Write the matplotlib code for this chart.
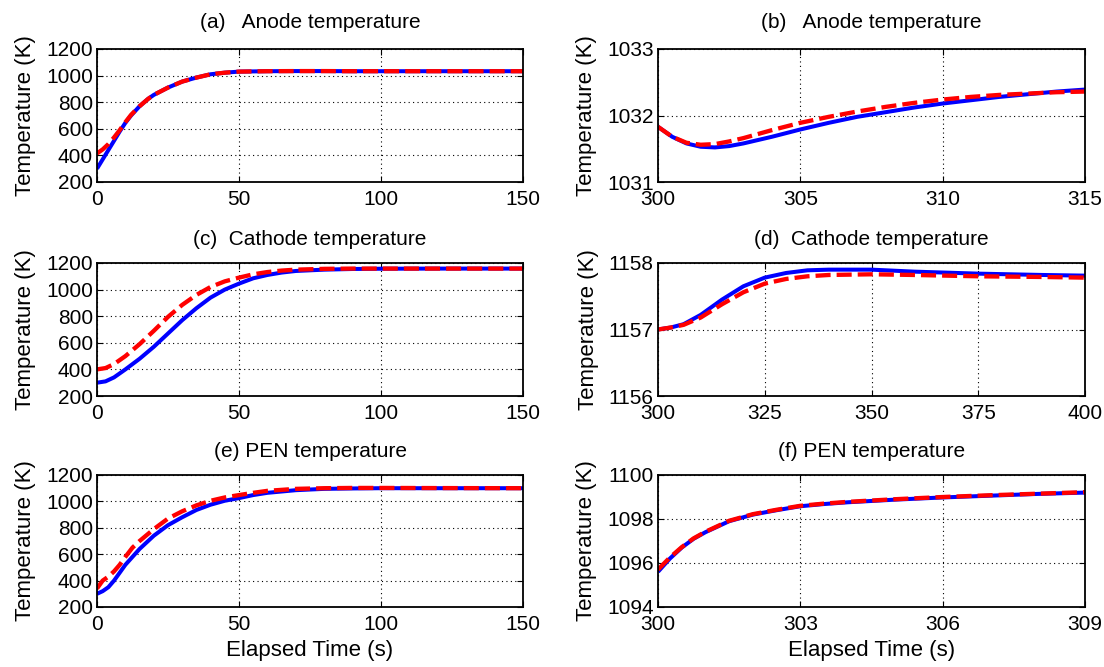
import matplotlib
matplotlib.use("Agg")
import matplotlib.pyplot as plt

plt.rcParams["font.family"] = ["Liberation Sans", "DejaVu Sans"]

# ---- (a) anode, start-up ----------------------------------------------------
t_a = [0, 2, 4, 6, 8, 10, 12, 15, 18, 20, 25, 30, 35, 40, 45, 50, 60, 70, 80,
       90, 100, 120, 150]
blue_a = [300, 370, 440, 510, 580, 645, 700, 770, 825, 855, 910, 955, 985,
          1010, 1022, 1030, 1033, 1034, 1034, 1033, 1033, 1033, 1033]
red_a = [415, 445, 485, 535, 590, 650, 705, 770, 825, 855, 910, 955, 985,
         1010, 1022, 1030, 1033, 1034, 1034, 1033, 1033, 1033, 1033]

# ---- (b) anode, zoom --------------------------------------------------------
t_b = [300, 300.5, 301, 301.5, 302, 302.5, 303, 304, 305, 306, 307, 308, 309,
       310, 311, 312, 313, 314, 315]
blue_b = [1031.83, 1031.68, 1031.58, 1031.53, 1031.52, 1031.54, 1031.58,
          1031.68, 1031.79, 1031.89, 1031.98, 1032.05, 1032.12, 1032.18,
          1032.23, 1032.28, 1032.32, 1032.36, 1032.39]
red_b = [1031.83, 1031.68, 1031.59, 1031.56, 1031.57, 1031.61, 1031.66,
         1031.78, 1031.89, 1031.98, 1032.06, 1032.13, 1032.19, 1032.24,
         1032.28, 1032.31, 1032.33, 1032.35, 1032.36]

# ---- (c) cathode, start-up --------------------------------------------------
t_c = [0, 3, 6, 10, 15, 20, 25, 30, 35, 40, 45, 50, 55, 60, 65, 70, 80, 90,
       100, 120, 150]
blue_c = [300, 310, 340, 400, 480, 570, 670, 770, 860, 940, 1000, 1045, 1085,
          1110, 1128, 1140, 1150, 1155, 1157, 1158, 1158]
red_c = [400, 410, 440, 500, 590, 690, 795, 885, 960, 1020, 1062, 1090, 1115,
         1132, 1143, 1150, 1156, 1158, 1158, 1158, 1158]

# ---- (d) cathode, zoom ------------------------------------------------------
t_d = [300, 303, 306, 310, 315, 320, 325, 330, 335, 340, 350, 360, 375, 390,
       400]
blue_d = [1157.0, 1157.03, 1157.08, 1157.22, 1157.45, 1157.65, 1157.78,
          1157.85, 1157.89, 1157.9, 1157.9, 1157.87, 1157.84, 1157.82, 1157.81]
red_d = [1157.0, 1157.03, 1157.07, 1157.18, 1157.38, 1157.56, 1157.69,
         1157.76, 1157.8, 1157.82, 1157.83, 1157.82, 1157.8, 1157.79, 1157.78]

# ---- (e) PEN, start-up ------------------------------------------------------
t_e = [0, 2, 4, 6, 8, 10, 12.5, 15, 20, 25, 30, 35, 40, 45, 50, 55, 60, 70,
       80, 90, 100, 120, 150]
blue_e = [300, 320, 350, 400, 460, 520, 580, 640, 740, 820, 880, 935, 975,
          1005, 1025, 1048, 1065, 1085, 1095, 1098, 1100, 1100, 1100]
red_e = [340, 400, 430, 470, 520, 580, 650, 700, 790, 870, 925, 970, 1005,
         1030, 1048, 1065, 1080, 1095, 1100, 1102, 1102, 1101, 1100]

# ---- (f) PEN, zoom ----------------------------------------------------------
t_f = [300, 300.25, 300.5, 300.75, 301, 301.5, 302, 302.5, 303, 303.5, 304,
       305, 306, 307, 308, 309]
blue_f = [1095.6, 1096.2, 1096.7, 1097.1, 1097.4, 1097.9, 1098.2, 1098.4,
          1098.58, 1098.68, 1098.76, 1098.88, 1098.98, 1099.06, 1099.14,
          1099.2]
red_f = [1095.7, 1096.25, 1096.72, 1097.12, 1097.42, 1097.92, 1098.22,
         1098.42, 1098.6, 1098.7, 1098.78, 1098.9, 1099.0, 1099.08, 1099.15,
         1099.22]

panels = [
    ("(a)   Anode temperature", t_a, blue_a, red_a, (0, 150), [0, 50, 100, 150],
     (200, 1200), [200, 400, 600, 800, 1000, 1200]),
    ("(b)   Anode temperature", t_b, blue_b, red_b, (300, 315),
     [300, 305, 310, 315], (1031, 1033), [1031, 1032, 1033]),
    ("(c)  Cathode temperature", t_c, blue_c, red_c, (0, 150), [0, 50, 100, 150],
     (200, 1200), [200, 400, 600, 800, 1000, 1200]),
    ("(d)  Cathode temperature", t_d, blue_d, red_d, (300, 400),
     [300, 325, 350, 375, 400], (1156, 1158), [1156, 1157, 1158]),
    ("(e) PEN temperature", t_e, blue_e, red_e, (0, 150), [0, 50, 100, 150],
     (200, 1200), [200, 400, 600, 800, 1000, 1200]),
    ("(f) PEN temperature", t_f, blue_f, red_f, (300, 309),
     [300, 303, 306, 309], (1094, 1100), [1094, 1096, 1098, 1100]),
]

W, H = 1104., 667.
cols = [(97, 523), (658, 1085)]
rows = [(49, 182), (263, 396), (475, 607)]
title_pads = [15, 13, 13]

fig = plt.figure(figsize=(11.04, 6.67), dpi=100)

for i, (title, t, blue, red, xl, xt, yl, yt) in enumerate(panels):
    x0, x1 = cols[i % 2]
    y0, y1 = rows[i // 2]
    ax = fig.add_axes([x0 / W, 1 - y1 / H, (x1 - x0) / W, (y1 - y0) / H])
    ax.plot(t, blue, color="#0000ff", lw=2.9, solid_capstyle="butt")
    ax.plot(t, red, color="#ff0000", lw=3.1, dashes=(3.5, 1.4))
    ax.set_xlim(*xl)
    ax.set_ylim(*yl)
    ax.set_xticks(xt)
    ax.set_yticks(yt)
    ax.grid(True, color="black", linestyle=(0, (1, 3)), linewidth=0.8)
    ax.tick_params(direction="in", top=True, right=True, length=4,
                   labelsize=15)
    ax.tick_params(axis="y", pad=3)
    ax.tick_params(axis="x", pad=6)
    for s in ax.spines.values():
        s.set_linewidth(1.3)
    ax.set_title(title, fontsize=15, pad=title_pads[i // 2])
    ax.set_ylabel("Temperature (K)", fontsize=16, labelpad=7)
    if i >= 4:
        ax.set_xlabel("Elapsed Time (s)", fontsize=16, labelpad=4)

fig.savefig("out.png", dpi=100)
